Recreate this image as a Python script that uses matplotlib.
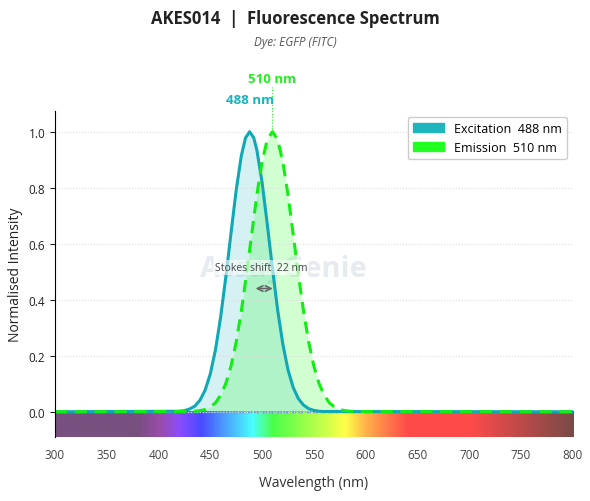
import numpy as np
import matplotlib.pyplot as plt
from matplotlib.colors import LinearSegmentedColormap

plt.rcParams['font.family'] = ['Open Sans', 'DejaVu Sans']

ex_wl = [300, 420, 425, 430, 435, 440, 445, 450, 455, 460, 465, 470, 475, 480, 484, 488,
         492, 495, 500, 505, 510, 515, 520, 525, 530, 535, 540, 545, 550, 555, 560, 800]
ex_val = [0, 0.002, 0.004, 0.010, 0.020, 0.041, 0.077, 0.135, 0.221, 0.338, 0.481, 0.638,
          0.791, 0.915, 0.978, 1.0, 0.978, 0.934, 0.819, 0.670, 0.512, 0.364, 0.242, 0.150,
          0.087, 0.047, 0.024, 0.011, 0.005, 0.002, 0.001, 0]
em_wl = [300, 430, 435, 440, 445, 450, 455, 460, 465, 470, 475, 480, 485, 490, 495, 500, 505,
         510, 515, 520, 525, 530, 535, 540, 545, 550, 555, 560, 565, 570, 575, 580, 585, 590, 800]
em_val = [0, 0.001, 0.002, 0.004, 0.008, 0.017, 0.032, 0.059, 0.101, 0.163, 0.249, 0.360,
          0.492, 0.635, 0.775, 0.893, 0.972, 1.0, 0.972, 0.893, 0.775, 0.635, 0.492, 0.360,
          0.249, 0.163, 0.101, 0.059, 0.032, 0.017, 0.008, 0.004, 0.002, 0.001, 0]
ex_peak, em_peak = 488, 510

spec_pos = [300, 380, 400, 420, 440, 490, 510, 580, 600, 640, 700, 800]
spec_col = ['#77507f', '#77507f', '#9a4caa', '#8a4cff', '#4a4aff', '#4affff', '#4aff4a',
            '#ffff4a', '#ffb04a', '#ff4a4a', '#ff4a4a', '#7a4a48']

fig = plt.figure(figsize=(5.9, 5.02), dpi=100)
ax = fig.add_axes([0.093, 0.1275, 0.878, 0.65])

cmap = LinearSegmentedColormap.from_list('spec', [((p - 300) / 500, c) for p, c in zip(spec_pos, spec_col)])
ax.imshow(np.linspace(0, 1, 500)[None, :], cmap=cmap, aspect='auto',
          extent=[300, 800, -0.09, 0], zorder=0)

# faint watermark
ax.text(440, 0.51, 'AssayGenie', fontsize=21, color='#e6ebef',
        ha='left', va='center', zorder=0.5, fontweight='bold')

ax.fill_between(ex_wl, ex_val, color='#17b2c0', alpha=0.18, lw=0)
ax.fill_between(em_wl, em_val, color='#22ff22', alpha=0.2, lw=0)
ax.plot(ex_wl, ex_val, color='#11a8b5', lw=2.2)
ax.plot(em_wl, em_val, color='#11ee11', lw=2.2, ls=(0, (4, 2.5)))
ax.axhline(0, color='#5a8fd0', lw=1, ls='--', zorder=1)

ax.fill_between([], [], color='#1fb5bf', label='Excitation  488 nm')
ax.fill_between([], [], color='#22ff22', label='Emission  510 nm')
ax.legend(loc='upper right', fontsize=9, fancybox=True, framealpha=1, edgecolor='#cccccc',
          handlelength=2.5)

ax.text(ex_peak, 1.115, f'{ex_peak} nm', color='#17b2c0', fontsize=9.5, fontweight='bold',
        ha='center', va='center', clip_on=False)
ax.text(em_peak, 1.19, f'{em_peak} nm', color='#22ee22', fontsize=9.5, fontweight='bold',
        ha='center', va='center', clip_on=False)
ax.plot([em_peak, em_peak], [1.0, 1.16], color='#22ee22', lw=0.8, ls=':', clip_on=False)

ax.text((ex_peak + em_peak) / 2, 0.515, f'Stokes shift  {em_peak - ex_peak} nm', fontsize=7.5,
        color='#444444', ha='center', va='center',
        bbox=dict(boxstyle='square,pad=0.2', fc='white', ec='none', alpha=0.6))
ax.annotate('', xy=(ex_peak + 3, 0.44), xytext=(em_peak + 3, 0.44),
            arrowprops=dict(arrowstyle='<->', color='#666666', lw=1.2))

ax.set_xlim(300, 800)
ax.set_ylim(-0.09, 1.075)
ax.set_xticks(np.arange(300, 801, 50))
ax.set_yticks([0, 0.2, 0.4, 0.6, 0.8, 1.0])
ax.tick_params(axis='x', length=0, labelsize=8.5, colors='#444444', pad=8)
ax.tick_params(axis='y', labelsize=8.5, colors='#222222')
ax.grid(axis='y', color='#dddddd', ls=':', lw=0.8)
for s in ['top', 'right', 'bottom']:
    ax.spines[s].set_visible(False)
ax.set_xlabel('Wavelength (nm)', fontsize=10, color='#333333', labelpad=10)
ax.set_ylabel('Normalised Intensity', fontsize=10, color='#222222')

fig.text(0.5, 0.963, 'AKES014  |  Fluorescence Spectrum', ha='center', va='center',
         fontsize=12, fontweight='bold', color='#222222')
fig.text(0.5, 0.915, 'Dye: EGFP (FITC)', ha='center', va='center', fontsize=8.5,
         style='italic', color='#555555')

fig.savefig('out.png', dpi=100)
